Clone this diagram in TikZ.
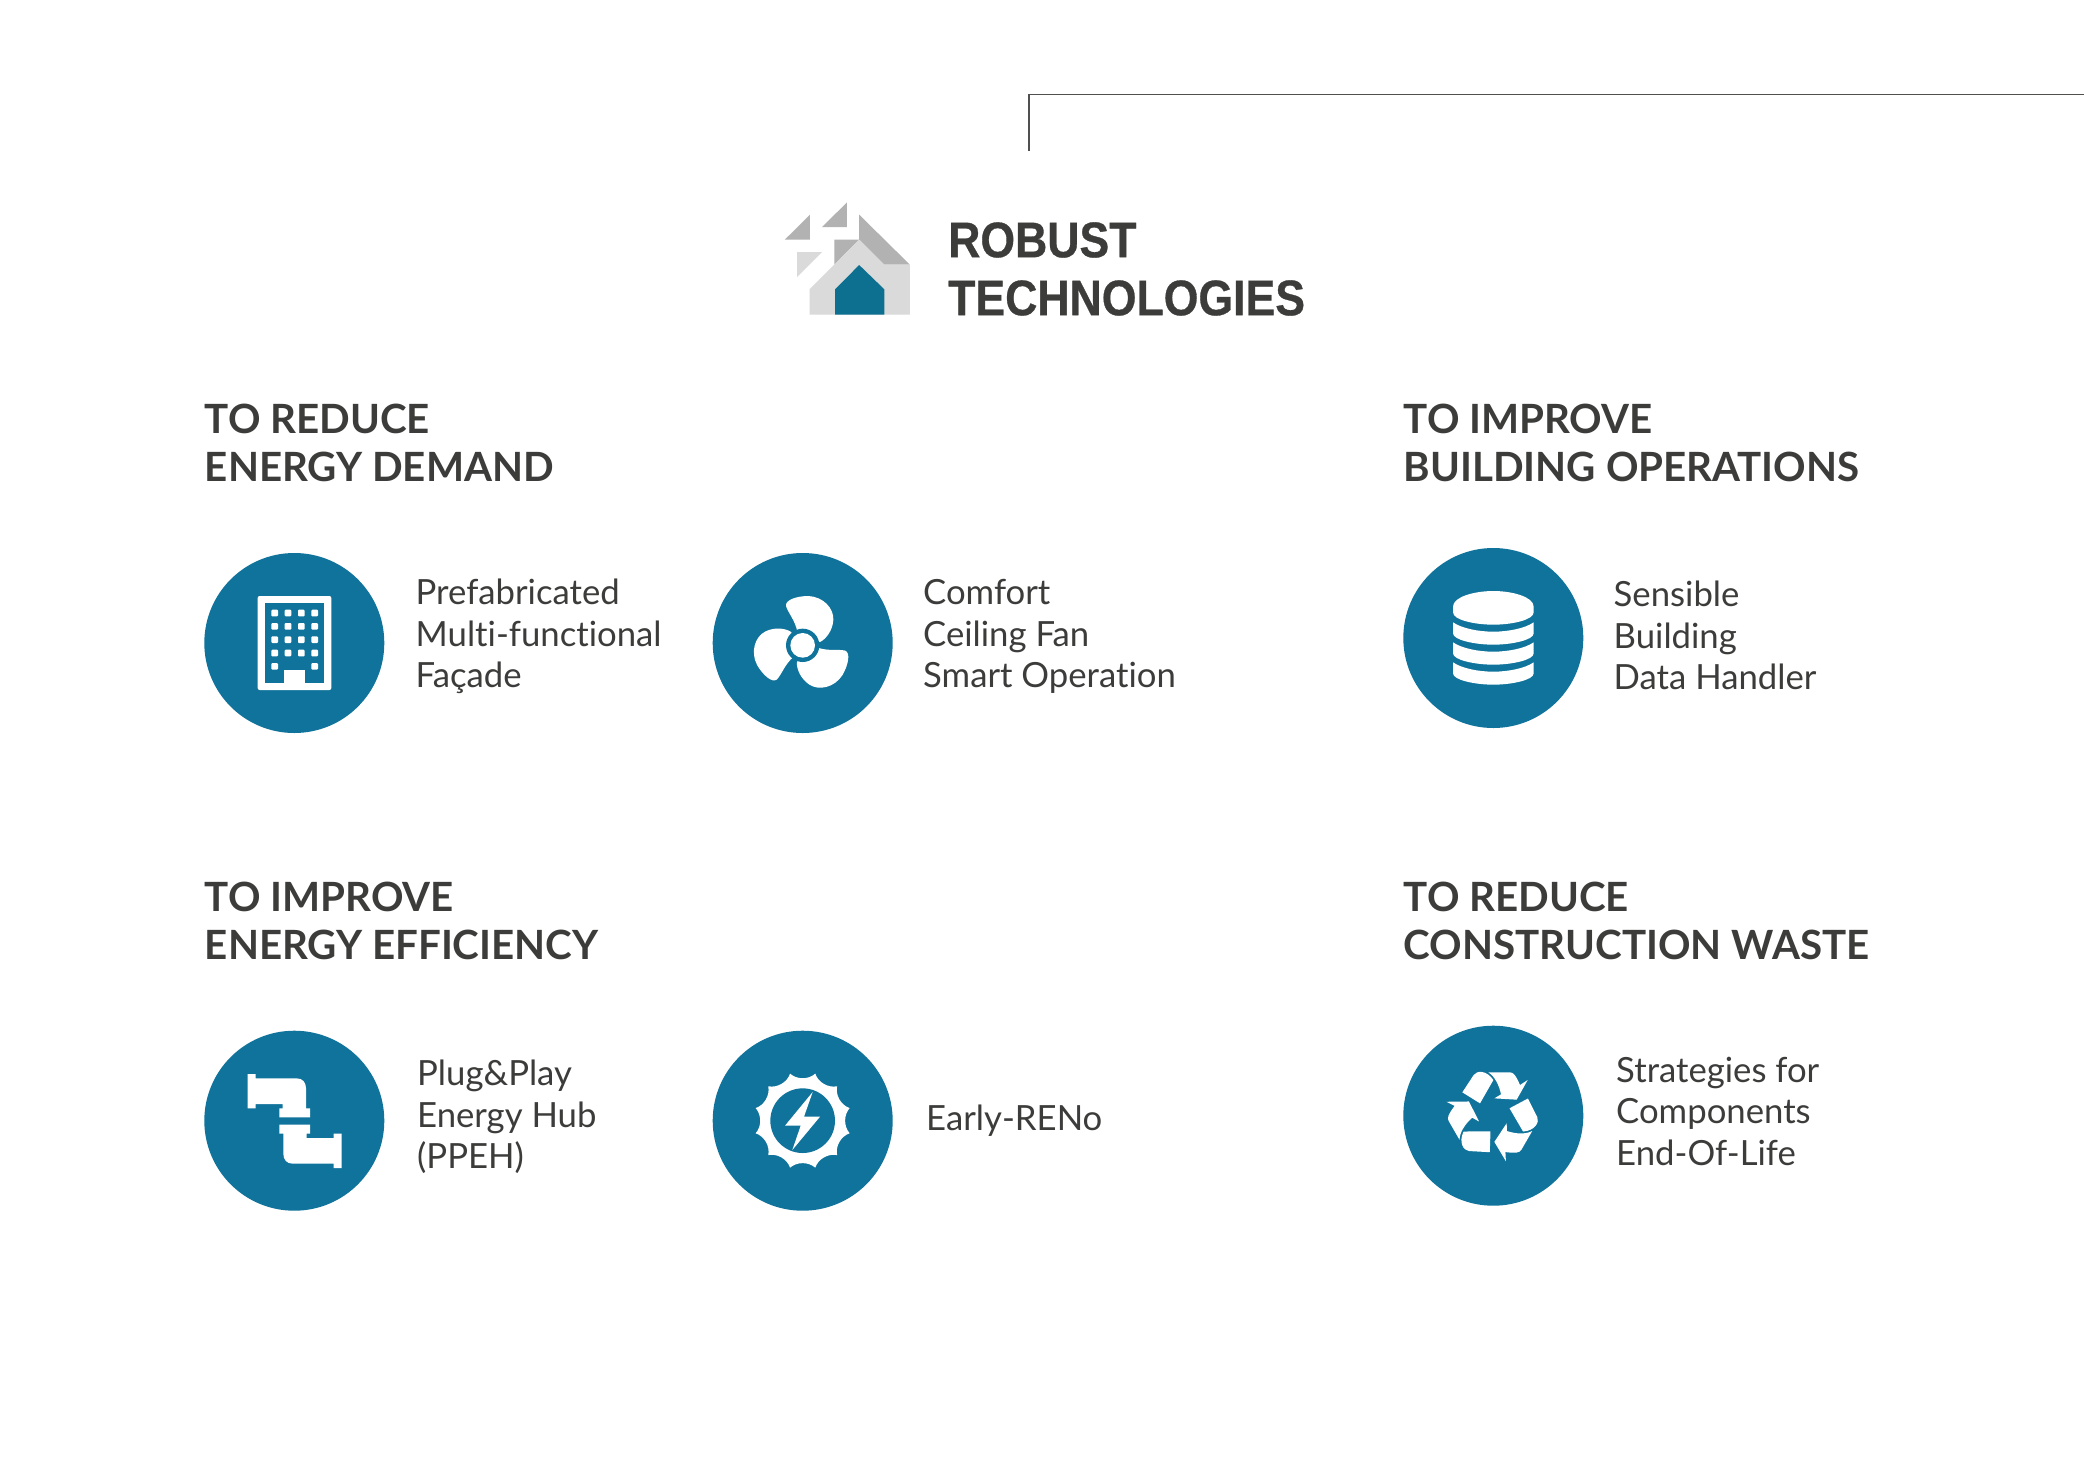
\documentclass[tikz,border=0pt]{standalone}
\usepackage{fontspec}
\setmainfont[Ligatures=CommonOff]{Lato}
\newfontfamily\titlefont[FakeStretch=0.892,BoldFeatures={FakeBold=0.6}]{Liberation Sans}
\definecolor{teal1}{HTML}{10739B}
\definecolor{teal2}{HTML}{0E7090}
\definecolor{ink}{HTML}{3C3C3B}
\definecolor{gray1}{HTML}{B2B2B2}
\definecolor{gray2}{HTML}{DADADA}
\tikzset{
  disc/.style={circle,fill=teal1,draw=none,minimum size=180pt,inner sep=0pt},
  heading/.style={anchor=west,align=left,inner sep=0pt,text=ink,font=\fontsize{40.3}{48}\selectfont\bfseries},
  body/.style={anchor=west,align=left,inner sep=0pt,text=ink,font=\fontsize{34.7}{41.5}\selectfont},
  title/.style={anchor=west,align=left,inner sep=0pt,text=ink,font=\fontsize{50}{58}\selectfont\titlefont\bfseries},
  icon/.style={x=0.33333pt,y=-0.33333pt},
}
\begin{document}
\begin{tikzpicture}[x=1pt,y=-1pt]
\useasboundingbox (0,0) rectangle (2084,1473);
\fill[white] (0,0) rectangle (2084,1473);
% corner line
\draw[ink!90,line width=1.5pt] (1029,151) -- (1029,94.3) -- (2084,94.3);
% logo
\begin{scope}[shift={(760,180)},x=0.37pt,y=-0.33333pt]
\fill[gray1] (67,179) -- (135,104) -- (135,179) -- cycle;
\fill[gray1] (168,141) -- (235,67) -- (235,141) -- cycle;
\fill[gray2] (100,216) -- (168,216) -- (100,291) -- cycle;
\fill[gray1] (268,104) -- (405,254) -- (336,254) -- (268,179) -- cycle;
\fill[gray1] (201,179) -- (268,179) -- (201,254) -- cycle;
\fill[gray2] (268,179) -- (336,254) -- (405,254) -- (405,404) -- (134,404) -- (134,328) -- cycle;
\fill[teal2] (203,404) -- (203,328) -- (268,255) -- (336,328) -- (336,404) -- cycle;
\end{scope}
\node[title] (t) at (948,269) {ROBUST\\TECHNOLOGIES};
% headings
\node[heading] (h1) at (204.7,443.3) {TO REDUCE\\ENERGY DEMAND};
\node[heading] (h2) at (1403.6,443.3) {TO IMPROVE\\BUILDING OPERATIONS};
\node[heading] (h3) at (204.7,921) {TO IMPROVE\\ENERGY EFFICIENCY};
\node[heading] (h4) at (1403.6,921) {TO REDUCE\\CONSTRUCTION WASTE};
% discs
\node[disc] (c1) at (294.3,643) {};
\node[disc] (c2) at (802.7,643) {};
\node[disc] (c3) at (1493.3,638) {};
\node[disc] (c4) at (294.3,1120.7) {};
\node[disc] (c5) at (802.7,1120.7) {};
\node[disc] (c6) at (1493.3,1115.7) {};
% labels
\node[body] (b1) at (415.5,636.7) {Prefabricated\\Multi-functional\\Façade};
\node[body] (b2) at (923,636.7) {Comfort\\Ceiling Fan\\Smart Operation};
\node[body] (b3) at (1613.5,635.7) {Sensible\\Building\\Data Handler};
\node[body] (b4) at (417,1117) {Plug\&Play\\Energy Hub\\(PPEH)};
\node[body] (b5) at (926,1120.5) {Early-RENo};
\node[body] (b6) at (1616,1111) {Strategies for\\Components\\End-Of-Life};
% building
\begin{scope}[shift={(190,540)},icon]
\fill[white,rounded corners=2pt] (203,168) rectangle (424,450);
\fill[teal1] (224,190) rectangle (403,430);
\fill[white] (283,430) -- (283,389) -- (345,389) -- (345,430) -- cycle;
\foreach \px in {254,294,334,374} \foreach \py in {219,259,299,339}
  \fill[white,rounded corners=1pt] (\px-10,\py-10) rectangle (\px+10,\py+10);
\foreach \px in {254,374}
  \fill[white,rounded corners=1pt] (\px-10,369) rectangle (\px+10,389);
\end{scope}
% fan
\begin{scope}[shift={(700,540)},icon]
\foreach \a in {0,120,240}
 \fill[white,rotate around={\a:(308,316)}] (292,275) .. controls (285,240) and (265,220) .. (258,198) .. controls (255,180) and (290,168) .. (325,168) .. controls (370,170) and (402,205) .. (400,240) .. controls (398,270) and (380,295) .. (362,305) -- (308,316) -- cycle;
\fill[teal1] (308,316) circle[radius=50];
\fill[white] (308,316) circle[radius=37];
\end{scope}
% database
\begin{scope}[shift={(1395,535)},icon]
\fill[white] (174,215) .. controls (174,185) and (240,168) .. (295,168) .. controls (350,168) and (416,185) .. (416,215) -- (416,232) .. controls (416,255) and (350,269) .. (295,269) .. controls (240,269) and (174,255) .. (174,232) -- cycle;
\foreach \d in {0,60,120}
 \fill[white,yshift=-\d*0.33333pt] (174,262) .. controls (200,280) and (250,290) .. (295,290) .. controls (340,290) and (390,280) .. (416,262) -- (416,295) .. controls (416,315) and (350,329) .. (295,329) .. controls (240,329) and (174,315) .. (174,295) -- cycle;
\end{scope}
% pipes
\begin{scope}[shift={(190,1020)},icon]
\foreach \a in {0,180}
 \fill[white,rotate around={\a:(314,303)}] (173,162) -- (197,162) -- (197,175) -- (320,175) .. controls (338,175) and (348,187) .. (348,205) -- (348,265) -- (360,265) -- (360,292) -- (268,292) -- (268,265) -- (278,265) -- (278,252) -- (197,252) -- (197,265) -- (173,265) -- cycle;
\end{scope}
% sun
\begin{scope}[shift={(700,1020)},icon]
\begin{scope}[shift={(308,302)}]
\fill[white] (15:146) \foreach \k in {15,45,...,345} { .. controls (\k+7:124) and (\k+23:124) .. (\k+30:146) } -- cycle;
\fill[teal1] (0,0) circle[radius=97];
\end{scope}
\fill[white] (338,216) -- (255,317) -- (302,317) -- (277,390) -- (360,290) -- (312,290) -- cycle;
\end{scope}
% recycle
\begin{scope}[shift={(1395,1015)},icon]
\foreach \a in {0,120,240}{
 \begin{scope}[rotate around={\a:(295,298)}]
 \fill[white] (202,232) -- (236,180) .. controls (245,166) and (275,165) .. (295,195) -- (255,265) -- cycle;
 \fill[white] (280,172) -- (345,172) .. controls (355,172) and (362,180) .. (375,210) -- (398,195) -- (365,254) -- (298,250) -- (318,238) .. controls (312,210) and (300,185) .. (280,172) -- cycle;
 \end{scope}
}
\end{scope}
\end{tikzpicture}
\end{document}
